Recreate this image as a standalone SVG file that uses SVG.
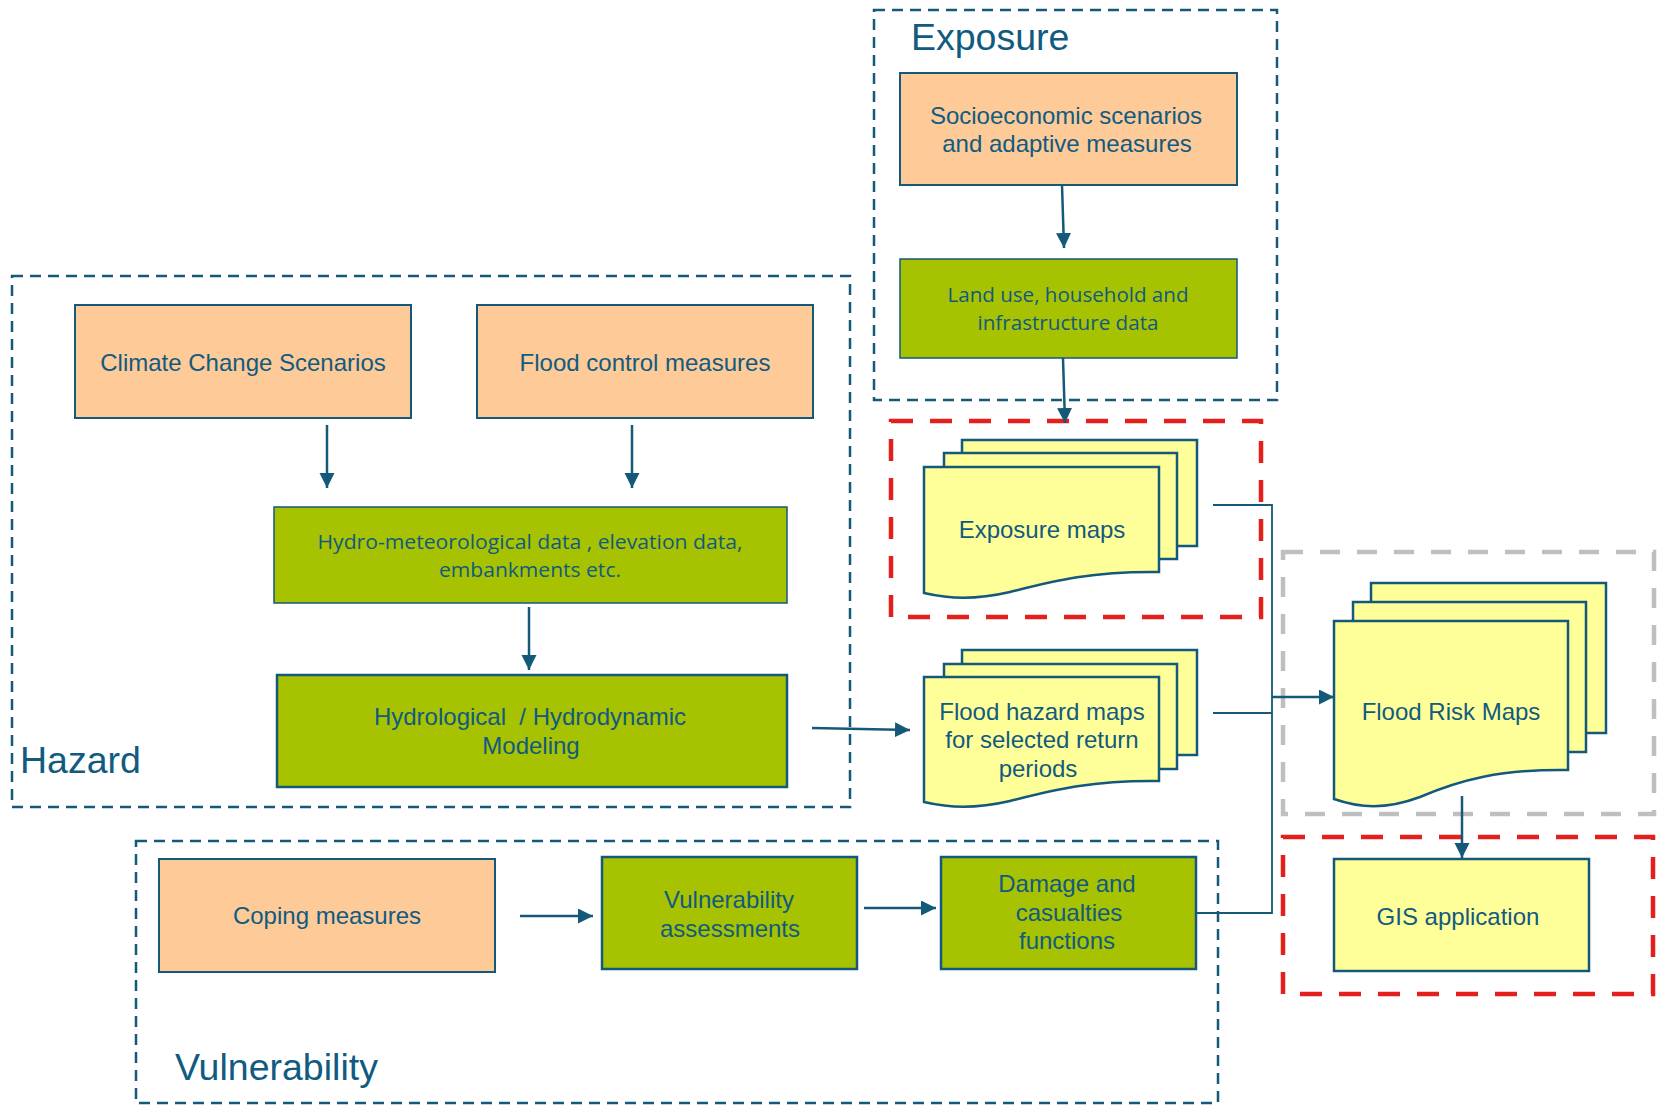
<svg xmlns="http://www.w3.org/2000/svg" width="1659" height="1105" viewBox="0 0 1659 1105">
<style>
.grp{fill:none;stroke:#14587A;stroke-width:2.5;stroke-dasharray:11 7}
.red{fill:none;stroke:#E3201B;stroke-width:4.5;stroke-dasharray:22 17}
.grey{fill:none;stroke:#BFBFBF;stroke-width:4.5;stroke-dasharray:20 17}
.org{fill:#FDCA98;stroke:#14587A;stroke-width:2}
.grn{fill:#A6C200;stroke:#14587A;stroke-width:1.5}
.grn2{fill:#A6C200;stroke:#14587A;stroke-width:2.5}
.yel{fill:#FFFF99;stroke:#14587A;stroke-width:2.5}
.t{font-family:"Liberation Sans",Arial,sans-serif;font-size:24px;fill:#115A80;text-anchor:middle}
.c{font-family:"Open Sans","Noto Sans",sans-serif;font-size:20.5px;fill:#115A80;text-anchor:middle}
.lbl{font-family:"Liberation Sans",Arial,sans-serif;font-size:37.5px;fill:#115A80}
.ln{fill:none;stroke:#14587A;stroke-width:2.5}
.thin{fill:none;stroke:#14587A;stroke-width:1.8}
</style>
<defs>
<marker id="ah" markerUnits="userSpaceOnUse" markerWidth="16" markerHeight="16" refX="15" refY="7.5" orient="auto">
<path d="M0,0 L15,7.5 L0,15 Z" fill="#14587A"/>
</marker>
</defs>

<g id="groups">
<rect id="exposure-group" class="grp" x="874" y="10" width="403" height="390"/>
<rect id="hazard-group" class="grp" x="12" y="276" width="838" height="531"/>
<rect id="vulnerability-group" class="grp" x="136" y="841" width="1082" height="262"/>
<rect class="red" x="891" y="421" width="370" height="196"/>
<rect class="grey" x="1283" y="552" width="371" height="262"/>
<rect class="red" x="1283" y="837" width="370" height="157"/>
<text class="lbl" x="911" y="50">Exposure</text>
<text class="lbl" x="20" y="773">Hazard</text>
<text class="lbl" x="175" y="1080">Vulnerability</text>
</g>

<g id="n-socio">
<rect class="org" x="900" y="73" width="337" height="112"/>
<text class="t" x="1066" y="124">Socioeconomic scenarios</text>
<text class="t" x="1067" y="152">and adaptive measures</text>
</g>
<g id="n-landuse">
<rect class="grn" x="900" y="259" width="337" height="99"/>
<text class="c" x="1068" y="302" textLength="241" lengthAdjust="spacingAndGlyphs">Land use, household and</text>
<text class="c" x="1068" y="330" textLength="181" lengthAdjust="spacingAndGlyphs">infrastructure data</text>
</g>
<g id="n-climate">
<rect class="org" x="75" y="305" width="336" height="113"/>
<text class="t" x="243" y="371">Climate Change Scenarios</text>
</g>
<g id="n-floodcontrol">
<rect class="org" x="477" y="305" width="336" height="113"/>
<text class="t" x="645" y="371">Flood control measures</text>
</g>
<g id="n-hydromet">
<rect class="grn" x="274" y="507" width="513" height="96"/>
<text class="c" x="530" y="549" textLength="425" lengthAdjust="spacingAndGlyphs">Hydro-meteorological data , elevation data,</text>
<text class="c" x="530" y="577" textLength="182" lengthAdjust="spacingAndGlyphs">embankments etc.</text>
</g>
<g id="n-hydrological">
<rect class="grn2" x="277" y="675" width="510" height="112"/>
<text class="t" x="530" y="725" xml:space="preserve">Hydrological  / Hydrodynamic</text>
<text class="t" x="531" y="754">Modeling</text>
</g>
<g id="n-exposuremaps">
<rect class="yel" x="962" y="440" width="235" height="106"/>
<rect class="yel" x="944" y="453" width="233" height="106"/>
<path class="yel" d="M924,467 H1159 V572 C1090,571 1050,582 1010,592 C975,600 950,599 924,593 Z"/>
<text class="t" x="1042" y="538">Exposure maps</text>
</g>
<g id="n-floodhazard">
<rect class="yel" x="962" y="650" width="235" height="105"/>
<rect class="yel" x="944" y="664" width="233" height="105"/>
<path class="yel" d="M924,677 H1159 V781 C1090,780 1050,791 1010,801 C975,809 950,808 924,802 Z"/>
<text class="t" x="1042" y="720">Flood hazard maps</text>
<text class="t" x="1042" y="748">for selected return</text>
<text class="t" x="1038" y="777">periods</text>
</g>
<g id="n-floodrisk">
<rect class="yel" x="1371" y="583" width="235" height="150"/>
<rect class="yel" x="1353" y="602" width="233" height="150"/>
<path class="yel" d="M1334,621 H1568 V770 C1500,769 1460,780 1420,797 C1385,810 1360,808 1334,799 Z"/>
<text class="t" x="1451" y="720">Flood Risk Maps</text>
</g>
<g id="n-gis">
<rect class="yel" x="1334" y="859" width="255" height="112"/>
<text class="t" x="1458" y="925">GIS application</text>
</g>
<g id="n-coping">
<rect class="org" x="159" y="859" width="336" height="113"/>
<text class="t" x="327" y="924">Coping measures</text>
</g>
<g id="n-vulnassess">
<rect class="grn2" x="602" y="857" width="255" height="112"/>
<text class="t" x="729" y="908">Vulnerability</text>
<text class="t" x="730" y="937">assessments</text>
</g>
<g id="n-damage">
<rect class="grn2" x="941" y="857" width="255" height="112"/>
<text class="t" x="1067" y="892">Damage and</text>
<text class="t" x="1069" y="921">casualties</text>
<text class="t" x="1067" y="949">functions</text>
</g>

<g id="connectors">
<line class="ln" x1="1062" y1="185" x2="1064" y2="248" marker-end="url(#ah)"/>
<line class="ln" x1="1063" y1="358" x2="1065" y2="423" marker-end="url(#ah)"/>
<line class="ln" x1="327" y1="425" x2="327" y2="488" marker-end="url(#ah)"/>
<line class="ln" x1="632" y1="425" x2="632" y2="488" marker-end="url(#ah)"/>
<line class="ln" x1="529" y1="607" x2="529" y2="670" marker-end="url(#ah)"/>
<line class="ln" x1="812" y1="728" x2="910" y2="730" marker-end="url(#ah)"/>
<line class="ln" x1="520" y1="916" x2="593" y2="916" marker-end="url(#ah)"/>
<line class="ln" x1="864" y1="908" x2="936" y2="908" marker-end="url(#ah)"/>
<polyline class="thin" points="1213,505 1272,505 1272,913 1196,913"/>
<line class="thin" x1="1213" y1="713" x2="1272" y2="713"/>
<line class="ln" x1="1272" y1="697" x2="1334" y2="697" marker-end="url(#ah)"/>
<line class="ln" x1="1462" y1="796" x2="1462" y2="858" marker-end="url(#ah)"/>
</g>
</svg>
